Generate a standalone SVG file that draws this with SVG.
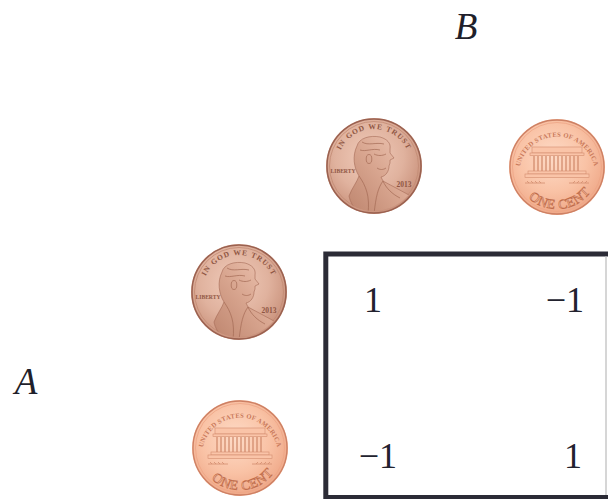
<svg xmlns="http://www.w3.org/2000/svg" width="608" height="499" viewBox="0 0 608 499">
<style>
.lbl{font-family:"Liberation Serif","DejaVu Serif",serif;font-style:italic;font-size:37px;fill:#1f1f2b}
.num{font-family:"Liberation Serif","DejaVu Serif",serif;font-size:36px;fill:#22222e}
.frame{fill:none;stroke:#2b2b36;stroke-width:5}
.ht{font-family:"Liberation Serif","DejaVu Serif",serif;font-weight:bold;fill:#8f5643}
.tt{font-family:"Liberation Serif","DejaVu Serif",serif;font-weight:bold;fill:#c9795a}
.col{stroke:#d38d6e;stroke-width:1.3}
.bld{fill:#fac4a8;stroke:#d38d6e;stroke-width:0.6}
</style>
<defs>
<radialGradient id="gH" cx="45%" cy="40%" r="60%">
<stop offset="0" stop-color="#f0cbba"/>
<stop offset="0.6" stop-color="#e0b29e"/>
<stop offset="1" stop-color="#c9917b"/>
</radialGradient>
<linearGradient id="gBust" x1="1" y1="0" x2="0" y2="1">
<stop offset="0" stop-color="#f0c9b7"/>
<stop offset="0.5" stop-color="#d8a58f"/>
<stop offset="1" stop-color="#bd846d"/>
</linearGradient>
<radialGradient id="gT" cx="45%" cy="40%" r="60%">
<stop offset="0" stop-color="#fedbc7"/>
<stop offset="0.6" stop-color="#f9c2a5"/>
<stop offset="1" stop-color="#efa888"/>
</radialGradient>
<clipPath id="coinClip"><circle r="45"/></clipPath>
<path id="arcTop" d="M -37,0 A 37 37 0 0 1 37,0"/>
<path id="arcTop2" d="M -38,4 A 38.2 38.2 0 0 1 38,4"/>
<path id="arcBot" d="M -42,0 A 42 42 0 0 0 42,0"/>
<g id="heads">
<circle r="48" fill="url(#gH)"/>
<circle r="47" fill="none" stroke="#9a6150" stroke-width="1.5"/>
<circle r="44.5" fill="none" stroke="#c28a74" stroke-width="0.8"/>
<g clip-path="url(#coinClip)">
<path d="M -17,-20 C -15,-28 -4,-31 6,-29 C 13,-27 17,-23 16,-17 L 16,-13 L 20,-8 L 16,-6 L 16,-3 L 15,0 C 15,5 12,10 7,11 L 9,15 C 18,20 30,26 40,32 L 40,50 L -14,50 C -20,42 -24,36 -25,30 C -22,22 -17,16 -15,10 C -20,2 -22,-10 -17,-20 Z" fill="url(#gBust)" stroke="#a46a55" stroke-width="0.6"/>
<path d="M -12,-24 C -6,-20 2,-24 10,-22 M -14,-16 C -8,-14 -2,-18 6,-16 M 0,-12 C 4,-10 8,-10 12,-12 M 3,2 C 6,4 9,4 12,2 M 9,15 C 4,22 2,30 0,48 M -15,10 C -8,20 -4,30 -6,48 M 9,15 C 12,22 18,28 26,32" fill="none" stroke="#a46a55" stroke-width="0.7"/>
</g>
<ellipse cx="-5" cy="-7" rx="2.8" ry="4.5" fill="none" stroke="#a46a55" stroke-width="0.7"/>
<text class="ht" font-size="7.5" letter-spacing="1"><textPath href="#arcTop" startOffset="50%" text-anchor="middle">IN GOD WE TRUST</textPath></text>
<text class="ht" x="-31" y="7" font-size="6" text-anchor="middle" textLength="25" lengthAdjust="spacingAndGlyphs">LIBERTY</text>
<text class="ht" x="30" y="21" font-size="7.5" text-anchor="middle">2013</text>
</g>
<g id="tails">
<circle r="48" fill="url(#gT)"/>
<circle r="47" fill="none" stroke="#cd8064" stroke-width="1.3"/>
<circle r="44.5" fill="none" stroke="#eea485" stroke-width="0.8"/>
<text class="tt" font-size="6.6" letter-spacing="0.3"><textPath href="#arcTop2" startOffset="50%" text-anchor="middle">UNITED STATES OF AMERICA</textPath></text>
<rect class="bld" x="-25" y="-20" width="50" height="6"/>
<rect class="bld" x="-27" y="-14" width="54" height="2.5"/>
<path class="col" d="M -23,-11 V 4 M -19,-11 V 4 M -15,-11 V 4 M -11,-11 V 4 M -7,-11 V 4 M -3,-11 V 4 M 1,-11 V 4 M 5,-11 V 4 M 9,-11 V 4 M 13,-11 V 4 M 17,-11 V 4 M 21,-11 V 4"/>
<rect class="bld" x="-29" y="4" width="58" height="3"/>
<rect class="bld" x="-32" y="7" width="64" height="3.5"/>
<path d="M -32,16 H -12 M 12,16 H 32 M -30,14 l 2,2 M -26,14 l 2,2 M -22,14 l 2,2 M -18,14 l 2,2 M 30,14 l -2,2 M 26,14 l -2,2 M 22,14 l -2,2 M 18,14 l -2,2" fill="none" stroke="#d38d6e" stroke-width="0.8"/>
<text font-family="Liberation Serif, DejaVu Serif, serif" font-size="13.5" fill="#f9c2a5" stroke="#c06c4a" stroke-width="0.6" letter-spacing="0.5"><textPath href="#arcBot" startOffset="53%" text-anchor="middle">ONE CENT</textPath></text>
</g>
</defs>

<g id="connectors"></g>

<g id="label-B"><text class="lbl" x="466" y="39" text-anchor="middle">B</text></g>
<g id="label-A"><text class="lbl" x="26" y="394" text-anchor="middle">A</text></g>

<g id="coin-B-heads"><use href="#heads" transform="translate(374,166)"/></g>
<g id="coin-B-tails"><use href="#tails" transform="translate(557,167)"/></g>
<g id="coin-A-heads"><use href="#heads" transform="translate(239,292)"/></g>
<g id="coin-A-tails"><use href="#tails" transform="translate(240,448)"/></g>

<g id="payoff-matrix">
<path class="frame" d="M 610,254 H 325.8 V 497.5 H 610"/>
<line x1="606" y1="256.5" x2="606" y2="495" stroke="#c8c8c8" stroke-width="1.5"/>
<text class="num" x="373" y="312" text-anchor="middle">1</text>
<text class="num" x="584" y="312" text-anchor="end">−1</text>
<text class="num" x="397" y="468" text-anchor="end">−1</text>
<text class="num" x="573" y="468" text-anchor="middle">1</text>
</g>
</svg>
